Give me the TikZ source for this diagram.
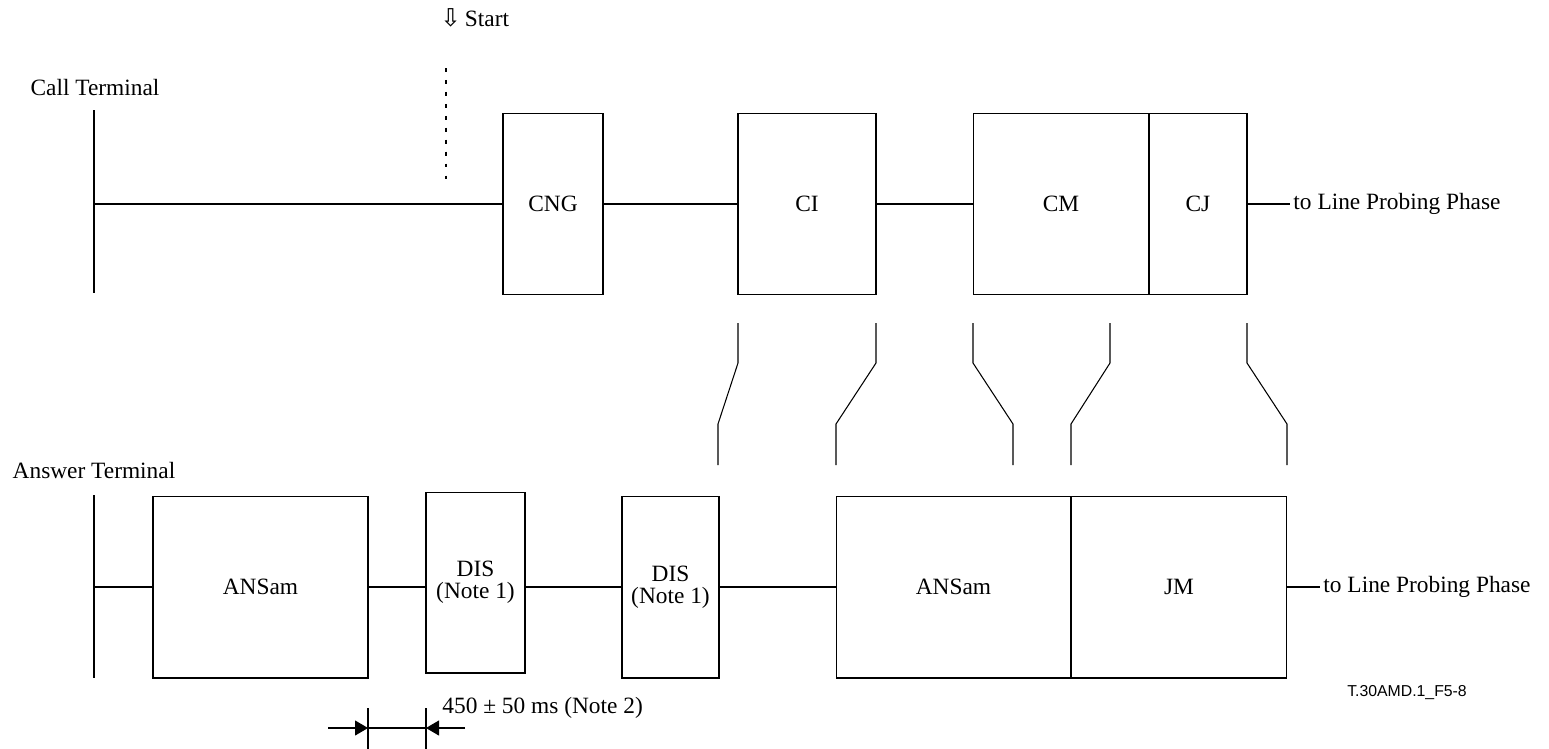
\documentclass[tikz,border=0pt]{standalone}
\usepackage{fontspec}
\setmainfont{Liberation Serif}
\newfontfamily\arrowfont{DejaVu Sans}
\newfontfamily\labelfont{Liberation Sans}
\usetikzlibrary{positioning,arrows.meta}

\begin{document}
\begin{tikzpicture}[x=0.02cm,y=-0.02cm,line width=0.6pt,
  font=\fontsize{13.3}{12.5}\selectfont,
  box/.style={draw,inner sep=0pt,outer sep=0pt,align=center},
  farside/.style={inner sep=0.06cm,anchor=west},
  tick/.style={-{Triangle[length=0.26cm,width=0.3cm]}}]
\useasboundingbox (0,0) rectangle (1549,748);

% start marker
\node[anchor=west] (start) at (434,18) {{\arrowfont\fontsize{14}{14}\selectfont ⇩}\,Start};
\draw[dash pattern=on 2.2pt off 4.6pt,line width=1.1pt] (446,68) -- (446,180);

% call terminal
\node[] (callT) at (95,88) {Call Terminal};
\coordinate (ctop) at (94,110);
\coordinate (cbot) at (94,293);
\coordinate (cmid) at (94,204);
\draw (ctop) -- (cbot);

\node[box,minimum width=2cm,minimum height=3.62cm] (cng) at (553,204) {CNG};
\node[box,minimum width=2.76cm,minimum height=3.62cm] (ci) at (807,204) {CI};
\node[box,minimum width=3.52cm,minimum height=3.62cm] (cm) at (1061,204) {CM};
\node[box,minimum width=1.96cm,minimum height=3.62cm,right=0pt of cm] (cj) {CJ};
\node[farside,right=0.86cm of cj] (probeA) {to Line Probing Phase};

\draw (cmid) -- (cng);
\draw (cng) -- (ci);
\draw (ci) -- (cm);
\draw (cj) -- (probeA);

% switch-over lines
\draw (738,323) -- (738,363) -- (718,424) -- (718,465);
\draw (876,323) -- (876,363) -- (836,424) -- (836,465);
\draw (973,323) -- (973,363) -- (1013,424) -- (1013,465);
\draw (1110,323) -- (1110,363) -- (1071,424) -- (1071,465);
\draw (1247,323) -- (1247,363) -- (1287,424) -- (1287,465);

% answer terminal
\node[] (answerT) at (94,470) {Answer Terminal};
\coordinate (atop) at (94,495);
\coordinate (abot) at (94,678);
\coordinate (amid) at (94,587);
\draw (atop) -- (abot);

\node[box,minimum width=4.3cm,minimum height=3.64cm] (ansamA) at (260.5,587) {ANSam};
\node[box,minimum width=1.98cm,minimum height=3.62cm] (disA) at (475.5,582.5) {DIS\\(Note 1)};
\node[box,minimum width=1.94cm,minimum height=3.64cm] (disB) at (670.5,587) {DIS\\(Note 1)};
\node[box,minimum width=4.7cm,minimum height=3.64cm] (ansamB) at (953.5,587) {ANSam};
\node[box,minimum width=4.32cm,minimum height=3.64cm,right=0pt of ansamB] (jm) {JM};
\node[farside,right=0.66cm of jm] (probeB) {to Line Probing Phase};

\draw (amid) -- (ansamA);
\draw (ansamA.east) -- (ansamA.east -| disA.west);
\draw (disA.east |- disB.west) -- (disB.west);
\draw (disB) -- (ansamB);
\draw (jm) -- (probeB);

% 450 ms gap
\draw (368,708) -- (368,750);
\draw (426,708) -- (426,750);
\draw[tick] (328,728) -- (368,728);
\draw (368,728) -- (426,728);
\draw[tick] (465,728) -- (426,728);
\node[anchor=west] (gap) at (436,708) {450 ± 50 ms (Note 2)};

\node[font=\labelfont\fontsize{9}{10}\selectfont] (figid) at (1407,693) {T.30AMD.1\_F5-8};
\end{tikzpicture}
\end{document}
